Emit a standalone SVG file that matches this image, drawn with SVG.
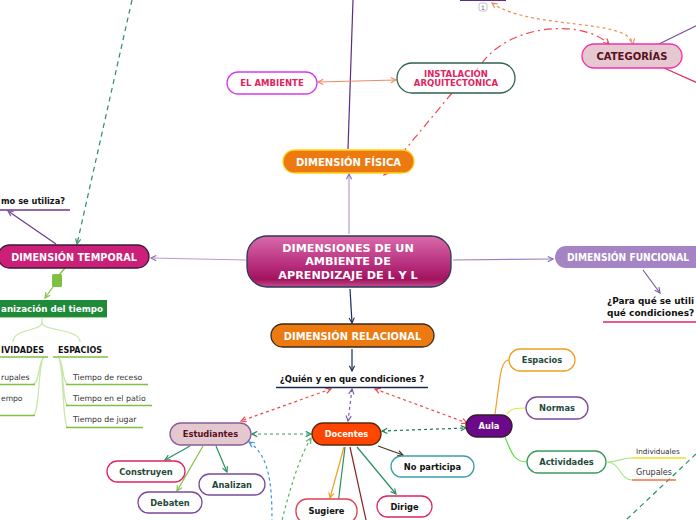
<svg xmlns="http://www.w3.org/2000/svg" width="696" height="520" viewBox="0 0 696 520">
<style>
text{font-family:"DejaVu Sans",Verdana,sans-serif;dominant-baseline:central}
.b{font-weight:bold}
.c{text-anchor:middle}
.e{text-anchor:end}
.w{fill:#fff}
.ln{fill:none;stroke-width:1.2}
.nd{stroke-width:1.3}
</style>
<defs>
<linearGradient id="gc" x1="0" y1="0" x2="0" y2="1">
<stop offset="0" stop-color="#d96aaa"/><stop offset="0.55" stop-color="#b8307f"/><stop offset="0.85" stop-color="#a3125e"/><stop offset="1" stop-color="#c2508e"/>
</linearGradient>
<marker id="m-lav" viewBox="0 0 8 8" refX="7" refY="4" markerWidth="7" markerHeight="7" orient="auto-start-reverse" markerUnits="userSpaceOnUse"><path d="M1,1 L7,4 L1,7" fill="none" stroke="#8a6ab8" stroke-width="1.3"/></marker>
<marker id="m-nav" viewBox="0 0 8 8" refX="7" refY="4" markerWidth="7" markerHeight="7" orient="auto-start-reverse" markerUnits="userSpaceOnUse"><path d="M1,1 L7,4 L1,7" fill="none" stroke="#1a2a5a" stroke-width="1.3"/></marker>
<marker id="m-grn" viewBox="0 0 8 8" refX="7" refY="4" markerWidth="7" markerHeight="7" orient="auto-start-reverse" markerUnits="userSpaceOnUse"><path d="M1,1 L7,4 L1,7" fill="none" stroke="#2a9060" stroke-width="1.3"/></marker>
<marker id="m-lgr" viewBox="0 0 8 8" refX="7" refY="4" markerWidth="7" markerHeight="7" orient="auto-start-reverse" markerUnits="userSpaceOnUse"><path d="M1,1 L7,4 L1,7" fill="none" stroke="#80c040" stroke-width="1.3"/></marker>
<marker id="m-mgr" viewBox="0 0 8 8" refX="7" refY="4" markerWidth="7" markerHeight="7" orient="auto-start-reverse" markerUnits="userSpaceOnUse"><path d="M1,1 L7,4 L1,7" fill="none" stroke="#60b060" stroke-width="1.3"/></marker>
<marker id="m-ora" viewBox="0 0 8 8" refX="7" refY="4" markerWidth="7" markerHeight="7" orient="auto-start-reverse" markerUnits="userSpaceOnUse"><path d="M1,1 L7,4 L1,7" fill="none" stroke="#f08a60" stroke-width="1.3"/></marker>
<marker id="m-red" viewBox="0 0 8 8" refX="7" refY="4" markerWidth="7" markerHeight="7" orient="auto-start-reverse" markerUnits="userSpaceOnUse"><path d="M1,1 L7,4 L1,7" fill="none" stroke="#f04848" stroke-width="1.3"/></marker>
<marker id="m-brn" viewBox="0 0 8 8" refX="7" refY="4" markerWidth="7" markerHeight="7" orient="auto-start-reverse" markerUnits="userSpaceOnUse"><path d="M1,1 L7,4 L1,7" fill="none" stroke="#4a3020" stroke-width="1.3"/></marker>
<marker id="m-yel" viewBox="0 0 8 8" refX="7" refY="4" markerWidth="7" markerHeight="7" orient="auto-start-reverse" markerUnits="userSpaceOnUse"><path d="M1,1 L7,4 L1,7" fill="none" stroke="#f0a020" stroke-width="1.3"/></marker>
<marker id="m-blu" viewBox="0 0 8 8" refX="7" refY="4" markerWidth="7" markerHeight="7" orient="auto-start-reverse" markerUnits="userSpaceOnUse"><path d="M1,1 L7,4 L1,7" fill="none" stroke="#3a90f0" stroke-width="1.3"/></marker>
<marker id="m-pur" viewBox="0 0 8 8" refX="7" refY="4" markerWidth="7" markerHeight="7" orient="auto-start-reverse" markerUnits="userSpaceOnUse"><path d="M1,1 L7,4 L1,7" fill="none" stroke="#7a5aa0" stroke-width="1.3"/></marker>
<marker id="m-dgr" viewBox="0 0 8 8" refX="7" refY="4" markerWidth="7" markerHeight="7" orient="auto-start-reverse" markerUnits="userSpaceOnUse"><path d="M1,1 L7,4 L1,7" fill="none" stroke="#1f7a4a" stroke-width="1.3"/></marker>
</defs>
<rect width="696" height="520" fill="#fff"/>

<g id="connectors">
<line x1="348" y1="149" x2="353" y2="0" stroke="#5a2d82" class="ln"/>
<line x1="132" y1="0" x2="77" y2="244" stroke="#2a9060" stroke-dasharray="5,4" class="ln" marker-end="url(#m-grn)"/>
<line x1="659" y1="44" x2="700" y2="24" stroke="#7a4a9a" class="ln"/>
<line x1="664" y1="68" x2="700" y2="84" stroke="#e03050" class="ln"/>
<line x1="318" y1="82" x2="396" y2="80" stroke="#f08a60" class="ln" marker-start="url(#m-ora)" marker-end="url(#m-ora)"/>
<path d="M452,93 L384,175" stroke="#f04848" stroke-dasharray="8,4,2,4" class="ln" marker-end="url(#m-red)"/>
<path d="M482,63 C510,25 580,18 609,44" stroke="#f04848" stroke-dasharray="8,4,2,4" class="ln" marker-end="url(#m-red)"/>
<path d="M492,3 C530,30 628,18 633,44" stroke="#f08a50" stroke-dasharray="3,3" class="ln" marker-start="url(#m-ora)" marker-end="url(#m-ora)"/>
<line x1="349" y1="234" x2="349" y2="174" stroke="#b49ad4" class="ln" marker-end="url(#m-lav)"/>
<line x1="246" y1="260" x2="151" y2="258" stroke="#b49ad4" class="ln" marker-end="url(#m-lav)"/>
<line x1="453" y1="260" x2="553" y2="259" stroke="#9a80c4" class="ln" marker-end="url(#m-lav)"/>
<line x1="350" y1="289" x2="352" y2="323" stroke="#1a2a5a" class="ln" marker-end="url(#m-nav)"/>
<line x1="643" y1="270" x2="660" y2="293" stroke="#7a5aa0" class="ln" marker-end="url(#m-pur)"/>
<line x1="56" y1="244" x2="8" y2="211" stroke="#6a3a8a" class="ln" marker-end="url(#m-pur)"/>
<line x1="65" y1="268" x2="59" y2="275" stroke="#80c040" class="ln"/>
<line x1="53" y1="287" x2="45" y2="298" stroke="#80c040" class="ln" marker-end="url(#m-lgr)"/>
<path d="M42,318 L42,322 C42,332 13,328 13,342 M42,322 C42,332 80,328 80,342" stroke="#c8e6a8" class="ln"/>
<path d="M44,357 C38,360 40,384 33,384 M44,357 C38,360 40,415 33,415" stroke="#c8e6a8" class="ln"/>
<path d="M58,357 C64,360 62,384 68,384 M58,357 C64,360 62,405 68,405 M58,357 C64,360 62,427 68,427" stroke="#c8e6a8" class="ln"/>
<line x1="352" y1="349" x2="352" y2="371" stroke="#1a2a5a" class="ln" marker-end="url(#m-nav)"/>
<line x1="331" y1="389" x2="241" y2="421" stroke="#f04848" stroke-dasharray="3,3" class="ln" marker-start="url(#m-red)" marker-end="url(#m-red)"/>
<line x1="352" y1="389" x2="348" y2="421" stroke="#7a5aa0" stroke-dasharray="3,3" class="ln" marker-start="url(#m-pur)" marker-end="url(#m-pur)"/>
<line x1="375" y1="389" x2="467" y2="423" stroke="#f04848" stroke-dasharray="3,3" class="ln" marker-start="url(#m-red)" marker-end="url(#m-red)"/>
<line x1="252" y1="434" x2="311" y2="434" stroke="#3a9a5a" stroke-dasharray="3,3" class="ln" marker-start="url(#m-grn)" marker-end="url(#m-grn)"/>
<line x1="382" y1="431" x2="466" y2="428" stroke="#1f7a4a" stroke-dasharray="3,3" class="ln" marker-start="url(#m-dgr)" marker-end="url(#m-dgr)"/>
<path d="M249,442 C268,455 272,480 272,520" stroke="#3a90f0" stroke-dasharray="3,3" class="ln" marker-start="url(#m-blu)"/>
<path d="M311,438 C298,460 290,490 282,520" stroke="#60b060" stroke-dasharray="3,3" class="ln" marker-start="url(#m-mgr)"/>
<line x1="190" y1="446" x2="165" y2="460" stroke="#2a9060" class="ln" marker-end="url(#m-grn)"/>
<line x1="203" y1="446" x2="177" y2="491" stroke="#80c040" class="ln" marker-end="url(#m-lgr)"/>
<line x1="216" y1="446" x2="227" y2="472" stroke="#2a9060" class="ln" marker-end="url(#m-grn)"/>
<line x1="378" y1="446" x2="403" y2="455" stroke="#4a3020" class="ln" marker-end="url(#m-brn)"/>
<line x1="344" y1="447" x2="330" y2="498" stroke="#f0a020" class="ln" marker-end="url(#m-yel)"/>
<line x1="357" y1="447" x2="396" y2="494" stroke="#2a9060" class="ln" marker-end="url(#m-grn)"/>
<line x1="345" y1="447" x2="336" y2="520" stroke="#2a9060" class="ln"/>
<line x1="350" y1="447" x2="366" y2="520" stroke="#8a2020" class="ln"/>
<path d="M495,414 C500,380 500,360 509,360" stroke="#f0a020" class="ln" stroke-width="1.5"/>
<path d="M507,414 C512,408 515,408 526,408" stroke="#d0f040" class="ln" stroke-width="1.5"/>
<path d="M505,437 C512,455 515,462 527,462" stroke="#60e040" class="ln" stroke-width="1.5"/>
<path d="M607,462 C620,462 620,458 632,458 M607,462 C620,462 620,480 632,480" stroke="#a8e888" class="ln"/>
<line x1="696" y1="454" x2="626" y2="520" stroke="#2a9060" stroke-dasharray="5,4" class="ln"/>
</g>

<g id="top-node">
<rect x="460" y="-20" width="46" height="21" fill="#5a2d82"/>
<rect x="479" y="3" width="8" height="8" rx="2" fill="#fff" stroke="#c0a8d0" stroke-width="0.8"/>
<text x="483" y="7.2" class="c" font-size="6" fill="#666">1</text>
</g>

<g id="central">
<rect x="247" y="236" width="204" height="51" rx="20" fill="url(#gc)" stroke="#2b3a5a" stroke-width="1.3"/>
<text x="348" y="248" class="b c w" font-size="11.2">DIMENSIONES DE UN</text>
<text x="348" y="261.5" class="b c w" font-size="11.2">AMBIENTE DE</text>
<text x="348" y="275" class="b c w" font-size="11.2">APRENDIZAJE DE L Y L</text>
</g>

<g id="fisica">
<rect x="283" y="150" width="131" height="23" rx="11.5" fill="#ec7a10" stroke="#ffd21a" class="nd"/>
<text x="348.5" y="162" class="b c w" font-size="10">DIMENSIÓN FÍSICA</text>
</g>

<g id="ambiente">
<rect x="227" y="72" width="90" height="22" rx="11" fill="#fff" stroke="#d43cf0" class="nd"/>
<text x="272" y="83" class="b c" font-size="8.5" fill="#e0245e">EL AMBIENTE</text>
</g>

<g id="instalacion">
<rect x="397" y="63" width="118" height="30" rx="15" fill="#fff" stroke="#2f5f4f" class="nd"/>
<text x="456" y="73.5" class="b c" font-size="8.5" fill="#e0245e">INSTALACIÓN</text>
<text x="456" y="83" class="b c" font-size="8.5" fill="#e0245e">ARQUITECTONICA</text>
</g>

<g id="categorias">
<rect x="582" y="44" width="100" height="24" rx="12" fill="#e6c8d0" stroke="#f030b0" class="nd"/>
<text x="632" y="56" class="b c" font-size="10" fill="#5a1020">CATEGORÍAS</text>
</g>

<g id="temporal">
<rect x="-2" y="245" width="151" height="23" rx="11.5" fill="#cc1f78" stroke="#3a1a3a" class="nd"/>
<text x="74" y="257" class="b c w" font-size="9.7">DIMENSIÓN TEMPORAL</text>
</g>

<g id="como">
<text x="1" y="201" class="b" font-size="9" fill="#111" textLength="64" lengthAdjust="spacingAndGlyphs">mo se utiliza?</text>
<line x1="-5" y1="210" x2="70" y2="210" stroke="#6a3a8a" stroke-width="1.3"/>
</g>

<g id="marker-square">
<rect x="52" y="274" width="10" height="13" rx="1.5" fill="#80c040"/>
</g>

<g id="organizacion">
<rect x="-10" y="300" width="117" height="17" fill="#1f8a3a"/>
<line x1="-10" y1="317.5" x2="107" y2="317.5" stroke="#a8d890" stroke-width="1"/>
<text x="1" y="308.5" class="b w" font-size="8.8" textLength="102" lengthAdjust="spacingAndGlyphs">anización del tiempo</text>
</g>

<g id="actividades-t">
<text x="1" y="350" class="b" font-size="8" fill="#111" textLength="43" lengthAdjust="spacingAndGlyphs">IVIDADES</text>
<line x1="-5" y1="357" x2="48" y2="357" stroke="#80c040" stroke-width="1.5"/>
</g>
<g id="espacios-t">
<text x="58" y="350" class="b" font-size="8" fill="#111">ESPACIOS</text>
<line x1="53" y1="357" x2="108" y2="357" stroke="#80c040" stroke-width="1.5"/>
</g>
<g id="grupales-t">
<text x="1" y="377" font-size="7.8" fill="#333" textLength="28.5" lengthAdjust="spacingAndGlyphs">rupales</text>
<line x1="-5" y1="384.5" x2="35" y2="384.5" stroke="#80c040" stroke-width="1.5"/>
</g>
<g id="tiempo-t">
<text x="1" y="398" font-size="7.8" fill="#333" textLength="21.5" lengthAdjust="spacingAndGlyphs">empo</text>
<line x1="-5" y1="415.5" x2="35" y2="415.5" stroke="#80c040" stroke-width="1.5"/>
</g>
<g id="receso">
<text x="73" y="377" font-size="7.8" fill="#333">Tiempo de receso</text>
<line x1="66" y1="384.5" x2="148" y2="384.5" stroke="#80c040" stroke-width="1.5"/>
</g>
<g id="patio">
<text x="73" y="398" font-size="7.8" fill="#333">Tiempo en el patio</text>
<line x1="66" y1="405.5" x2="152" y2="405.5" stroke="#80c040" stroke-width="1.5"/>
</g>
<g id="jugar">
<text x="73" y="419" font-size="7.8" fill="#333">Tiempo de jugar</text>
<line x1="66" y1="427.5" x2="143" y2="427.5" stroke="#80c040" stroke-width="1.5"/>
</g>

<g id="funcional">
<rect x="555" y="246" width="170" height="22" rx="11" fill="#a484c4"/>
<text x="567" y="257" class="b w" font-size="9.6" textLength="122" lengthAdjust="spacingAndGlyphs">DIMENSIÓN FUNCIONAL</text>
</g>
<g id="para-que">
<text x="607" y="301" class="b" font-size="9" fill="#111" textLength="87" lengthAdjust="spacingAndGlyphs">¿Para qué se utili</text>
<text x="607" y="313" class="b" font-size="9" fill="#111">qué condiciones?</text>
<line x1="603" y1="322" x2="700" y2="322" stroke="#e0245e" stroke-width="1.5"/>
</g>

<g id="relacional">
<rect x="271" y="324" width="163" height="23" rx="11.5" fill="#ec7a10" stroke="#3a2a20" class="nd"/>
<text x="352.5" y="336" class="b c w" font-size="9.9">DIMENSIÓN RELACIONAL</text>
</g>

<g id="quien">
<text x="352" y="379" class="b c" font-size="8.5" fill="#111">¿Quién y en que condiciones ?</text>
<line x1="276" y1="387.5" x2="428" y2="387.5" stroke="#1a2a5a" stroke-width="1.5"/>
</g>

<g id="estudiantes">
<rect x="170" y="423" width="81" height="22" rx="11" fill="#e3c8d0" stroke="#8a5a9a" class="nd"/>
<text x="210.5" y="434" class="b c" font-size="8.3" fill="#5a1020">Estudiantes</text>
</g>
<g id="docentes">
<rect x="312" y="423" width="69" height="22" rx="11" fill="#ff4500" stroke="#5a2a10" class="nd"/>
<text x="346.5" y="434" class="b c w" font-size="8.3">Docentes</text>
</g>
<g id="aula">
<rect x="466" y="415" width="46" height="22" rx="11" fill="#6a0a8a" stroke="#3a1a2a" class="nd"/>
<text x="489" y="426" class="b c w" font-size="8.3">Aula</text>
</g>

<g id="construyen">
<rect x="107" y="461" width="78" height="21" rx="10.5" fill="#fff" stroke="#e0245e" class="nd"/>
<text x="146" y="471.5" class="b c" font-size="8.3" fill="#1f4a3a">Construyen</text>
</g>
<g id="debaten">
<rect x="138" y="492" width="64" height="21" rx="10.5" fill="#fff" stroke="#7a4a9a" class="nd"/>
<text x="170" y="502.5" class="b c" font-size="8.3" fill="#1f4a3a">Debaten</text>
</g>
<g id="analizan">
<rect x="199" y="474" width="66" height="21" rx="10.5" fill="#fff" stroke="#7a4a9a" class="nd"/>
<text x="232" y="484.5" class="b c" font-size="8.3" fill="#1f4a3a">Analizan</text>
</g>

<g id="no-participa">
<rect x="391" y="456" width="83" height="21" rx="10.5" fill="#fff" stroke="#3aa0b0" class="nd"/>
<text x="432.5" y="466.5" class="b c" font-size="8.3" fill="#111">No participa</text>
</g>
<g id="sugiere">
<rect x="296" y="499" width="61" height="24" rx="11" fill="#fff" stroke="#e04050" class="nd"/>
<text x="326.5" y="511" class="b c" font-size="8.3" fill="#111">Sugiere</text>
</g>
<g id="dirige">
<rect x="377" y="496" width="55" height="21" rx="10.5" fill="#fff" stroke="#e0245e" class="nd"/>
<text x="404.5" y="506.5" class="b c" font-size="8.3" fill="#111">Dirige</text>
</g>

<g id="espacios">
<rect x="509" y="349" width="66" height="22" rx="11" fill="#fff" stroke="#f0a020" class="nd"/>
<text x="542" y="360" class="b c" font-size="8.3" fill="#1f4a3a">Espacios</text>
</g>
<g id="normas">
<rect x="526" y="397" width="62" height="22" rx="11" fill="#fff" stroke="#7a4a9a" class="nd"/>
<text x="557" y="408" class="b c" font-size="8.3" fill="#1f4a3a">Normas</text>
</g>
<g id="actividades">
<rect x="527" y="451" width="79" height="22" rx="11" fill="#fff" stroke="#3a9a5a" class="nd"/>
<text x="566.5" y="462" class="b c" font-size="8.3" fill="#1f4a3a">Actividades</text>
</g>
<g id="individuales">
<text x="636" y="451.5" font-size="7.3" fill="#333">Individuales</text>
<line x1="632" y1="458" x2="686" y2="458" stroke="#f0e020" stroke-width="1.5"/>
</g>
<g id="grupales">
<text x="636" y="472" font-size="8" fill="#333">Grupales</text>
<line x1="632" y1="480" x2="676" y2="480" stroke="#f07040" stroke-width="1.5"/>
</g>
</svg>
